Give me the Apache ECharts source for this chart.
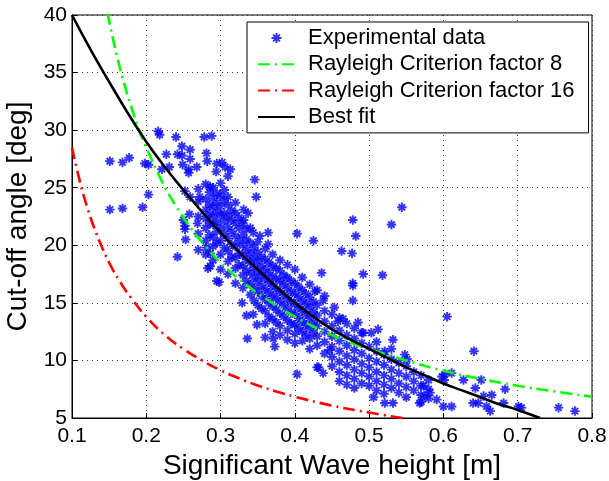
<!DOCTYPE html>
<html>
<head>
<meta charset="utf-8">
<script src="https://cdn.jsdelivr.net/npm/echarts@6/dist/echarts.min.js"></script>
<style>html,body{margin:0;padding:0;background:#fff;}#c{width:609px;height:481px;}</style>
</head>
<body>
<div id="c"></div>
<script>
// ---- data ----
const xTicks = [0.1, 0.2, 0.3, 0.4, 0.5, 0.6, 0.7, 0.8];
const yTicks = [5, 10, 15, 20, 25, 30, 35, 40];

// sparse / outlying measurements [Hs (m), cut-off angle (deg)]
const sparsePoints = [
 [0.151,27.3],[0.168,27.2],[0.177,27.6],[0.198,27.1],[0.203,27.0],[0.151,23.1],[0.168,23.2],[0.195,23.3],[0.203,24.4],
 [0.216,29.9],[0.218,29.6],[0.240,29.4],[0.278,29.4],[0.288,29.5],[0.248,28.6],[0.259,28.3],[0.227,27.9],[0.242,27.9],
 [0.248,27.8],[0.259,27.5],[0.281,28.0],[0.282,27.3],[0.221,26.6],[0.231,26.8],[0.249,27.0],[0.257,26.6],[0.257,26.3],
 [0.268,26.8],[0.294,26.4],[0.286,25.1],[0.252,24.7],[0.259,24.2],[0.272,24.2],[0.258,22.7],[0.250,22.2],[0.252,21.7],
 [0.252,21.4],[0.269,21.9],[0.253,20.5],[0.281,19.8],[0.286,19.3],[0.242,19.0],[0.286,18.2],[0.283,18.0],[0.295,16.9],
 [0.298,16.8],[0.295,27.1],[0.302,27.2],[0.306,26.8],[0.313,26.6],[0.310,26.0],[0.346,25.7],[0.348,24.2],[0.331,23.1],
 [0.337,22.8],[0.331,22.2],[0.335,21.4],[0.344,21.1],[0.353,20.8],[0.364,21.1],[0.403,21.0],[0.425,20.4],[0.364,20.1],
 [0.478,22.2],[0.482,20.8],[0.463,19.5],[0.477,19.3],[0.530,21.8],[0.544,23.3],
 [0.436,17.6],[0.492,17.5],[0.518,17.4],[0.478,16.7],[0.478,16.5],[0.427,16.0],[0.438,15.2],[0.478,15.2],[0.453,14.6],
 [0.458,13.4],[0.465,13.6],[0.485,13.3],[0.512,12.7],[0.503,12.4],[0.492,12.4],[0.532,11.8],[0.521,10.8],[0.548,10.5],
 [0.551,10.1],[0.432,9.4],[0.438,8.9],[0.447,10.9],[0.403,8.8],[0.430,9.4],
 [0.506,6.8],[0.521,6.3],[0.532,6.3],[0.568,6.3],[0.575,6.9],
 [0.605,13.8],[0.641,10.8],[0.598,8.6],[0.602,8.8],[0.611,8.9],[0.601,8.3],[0.627,8.3],[0.651,8.3],[0.643,7.6],
 [0.683,7.5],[0.665,7.0],[0.654,6.9],[0.681,6.3],[0.573,7.8],[0.582,7.2],[0.591,6.6],[0.600,6.0],[0.611,6.0],
 [0.640,6.3],[0.647,6.3],[0.658,6.0],[0.663,5.6],[0.701,6.0],[0.705,5.9],[0.755,5.9],[0.777,5.6],
 [0.329,15.0],[0.335,13.9],[0.344,14.0],[0.349,13.1],[0.336,11.9],[0.360,12.0],[0.371,11.9],[0.373,11.2]
];

// dense main cloud, grouped by Hs column: [Hs, [angles...]]
const denseColumns = [
 [0.270,[22.5,23.8,24.9,21.0,19.6]],
 [0.280,[25.3,24.0,23.1,22.3,21.5,20.4,19.2]],
 [0.285,[24.6,23.5,22.7,21.9,20.9]],
 [0.290,[25.0,24.1,23.3,22.5,21.8,20.7,19.9,18.7]],
 [0.295,[24.5,23.7,22.9,22.0,21.2,20.2]],
 [0.300,[25.4,24.3,23.4,22.6,21.5,20.4,19.2,17.9]],
 [0.305,[24.8,23.9,22.8,22.1,21.0,19.8]],
 [0.310,[24.2,23.5,22.5,21.6,20.6,19.5,18.6,17.5]],
 [0.315,[23.0,22.2,21.2,20.1,19.0]],
 [0.320,[23.7,22.8,21.9,20.8,19.9,18.9,18.0,16.7]],
 [0.325,[22.4,21.5,20.4,19.3,18.3]],
 [0.330,[21.9,20.9,20.0,19.1,18.2,17.4,16.3]],
 [0.335,[20.5,19.6,18.8,17.8,16.9]],
 [0.340,[21.5,20.2,19.3,18.5,17.6,16.6,15.7]],
 [0.345,[19.8,18.9,18.1,17.2,16.3,15.2]],
 [0.350,[20.3,19.4,18.6,17.7,16.9,16.0,14.8]],
 [0.355,[19.0,18.2,17.4,16.5,15.6,14.5]],
 [0.360,[19.7,18.8,17.9,17.1,16.2,15.3,14.3,13.2]],
 [0.365,[18.5,17.6,16.8,15.9,15.0,13.8]],
 [0.370,[19.2,18.2,17.3,16.5,15.6,14.7,13.6,12.5]],
 [0.375,[18.0,17.1,16.2,15.4,14.4,13.3]],
 [0.380,[18.7,17.8,16.9,16.0,15.1,14.1,13.0,12.2]],
 [0.385,[17.4,16.6,15.7,14.8,13.8]],
 [0.390,[18.3,17.2,16.3,15.4,14.5,13.5,12.6,11.8]],
 [0.395,[16.9,16.0,15.1,14.2,13.2]],
 [0.400,[17.9,16.7,15.8,14.9,14.0,13.1,12.3,11.5]],
 [0.405,[16.4,15.5,14.6,13.7,12.8]],
 [0.410,[17.2,16.1,15.2,14.3,13.4,12.5,11.7]],
 [0.415,[15.8,14.9,14.0,13.1,12.2]],
 [0.420,[16.6,15.5,14.6,13.7,12.8,11.9,11.0]],
 [0.425,[15.1,14.2,13.3,12.4]],
 [0.430,[16.1,14.8,13.9,13.0,12.1,11.3]],
 [0.440,[15.6,14.3,13.4,12.5,11.6,10.6]],
 [0.450,[14.0,13.0,12.1,11.2,10.3,9.5]],
 [0.460,[13.7,12.6,11.7,10.8,9.9,9.0,8.2]],
 [0.470,[13.2,12.2,11.3,10.4,9.6,8.7,7.9]],
 [0.480,[12.8,11.9,10.9,10.1,9.2,8.4,7.6]],
 [0.490,[12.4,11.5,10.6,9.7,8.9,8.0]],
 [0.500,[11.2,10.2,9.4,8.6,7.8]],
 [0.510,[11.6,10.8,9.9,9.0,8.2,7.4]],
 [0.520,[10.5,9.6,8.7,7.9,7.1]],
 [0.530,[11.0,10.1,9.2,8.4,7.6]],
 [0.540,[9.8,8.9,8.0,7.2]],
 [0.550,[9.5,8.6,7.7,6.8]],
 [0.560,[9.0,8.2,7.4]],
 [0.570,[8.7,7.8,7.0,6.4]],
 [0.580,[8.3,7.5,6.7]]
];

// Rayleigh criterion factor 8 (green)
const rayleigh8 = [
 [0.148,40.2],[0.15,39.5],[0.16,36.6],[0.17,34.1],[0.18,32.0],[0.19,30.1],[0.20,28.5],[0.22,25.7],[0.24,23.4],
 [0.26,21.5],[0.28,19.9],[0.30,18.5],[0.33,16.8],[0.36,15.4],[0.40,13.8],[0.45,12.2],[0.50,11.0],[0.55,10.0],
 [0.60,9.1],[0.65,8.4],[0.70,7.8],[0.75,7.3],[0.80,6.85]
];
// Rayleigh criterion factor 16 (red)
const rayleigh16 = [
 [0.10,28.5],[0.11,25.7],[0.12,23.4],[0.13,21.5],[0.14,19.9],[0.15,18.5],[0.165,16.8],[0.18,15.4],[0.20,13.8],
 [0.225,12.2],[0.25,11.0],[0.275,10.0],[0.30,9.15],[0.325,8.44],[0.35,7.83],[0.375,7.31],[0.40,6.85],[0.45,6.08],
 [0.50,5.47],[0.545,5.0]
];
// Best fit (black)
const bestFit = [
 [0.10,40.0],[0.125,37.0],[0.15,34.2],[0.175,31.5],[0.20,29.0],[0.225,26.8],[0.25,24.8],[0.275,22.9],[0.30,21.1],
 [0.325,19.4],[0.35,17.9],[0.375,16.4],[0.40,15.0],[0.425,13.8],[0.45,12.7],[0.475,11.8],[0.50,11.0],[0.525,10.2],
 [0.55,9.4],[0.575,8.7],[0.60,8.0],[0.625,7.4],[0.65,6.8],[0.675,6.2],[0.70,5.7],[0.73,5.0]
];

const seriesNames = ['Experimental data','Rayleigh Criterion factor 8','Rayleigh Criterion factor 16','Best fit'];

// ---- build chart ----
const experimental = sparsePoints.slice();
denseColumns.forEach(function (col) { col[1].forEach(function (v) { experimental.push([col[0], v]); }); });

const FONT = 'Liberation Sans, Arial, Helvetica, sans-serif';
const asterisk = 'path://M0,5L10,5M5,0L5,10M1.6,1.6L8.4,8.4M8.4,1.6L1.6,8.4';
const chart = echarts.init(document.getElementById('c'), null, {renderer: 'canvas'});
const axisCommon = {
  axisLine: {show: true, onZero: false, lineStyle: {color: '#000', width: 1}},
  axisTick: {show: true, inside: true, length: 5, lineStyle: {color: '#000'}},
  splitLine: {show: true, lineStyle: {color: '#333', type: [1, 4], width: 1}},
  axisLabel: {color: '#000', fontSize: 21, fontFamily: FONT},
  nameLocation: 'middle',
  nameTextStyle: {color: '#000', fontSize: 28, fontFamily: FONT}
};
chart.setOption({
  animation: false,
  backgroundColor: '#fff',
  textStyle: {fontFamily: FONT},
  grid: {left: 72, right: 17, top: 15, bottom: 63, containLabel: false, outerBoundsMode: 'none',
         show: true, borderColor: '#000', borderWidth: 1, backgroundColor: '#fff'},
  xAxis: Object.assign({}, axisCommon, {
    type: 'value', min: xTicks[0], max: xTicks[xTicks.length - 1], interval: 0.1,
    name: 'Significant Wave height [m]', nameGap: 33,
    axisLabel: Object.assign({}, axisCommon.axisLabel, {margin: 8, formatter: function (v) { return (Math.round(v * 10) / 10).toString(); }})
  }),
  yAxis: Object.assign({}, axisCommon, {
    type: 'value', min: yTicks[0], max: yTicks[yTicks.length - 1], interval: 5,
    name: 'Cut-off angle [deg]', nameGap: 37,
    axisLabel: Object.assign({}, axisCommon.axisLabel, {margin: 5})
  }),
  legend: {
    orient: 'vertical', left: 247, top: 22,
    padding: [5, 14, 5, 10], itemGap: 4.3, itemWidth: 37, itemHeight: 10,
    borderColor: '#000', borderWidth: 1, backgroundColor: '#fff',
    textStyle: {color: '#000', fontSize: 22, lineHeight: 22, fontFamily: FONT, padding: [0, 0, 0, 8]},
    data: [
      {name: seriesNames[0]},
      {name: seriesNames[1], itemStyle: {opacity: 0}},
      {name: seriesNames[2], itemStyle: {opacity: 0}},
      {name: seriesNames[3], itemStyle: {opacity: 0}}
    ]
  },
  series: [
    {name: seriesNames[0], type: 'scatter', data: experimental, symbol: asterisk, symbolSize: 9.5,
     itemStyle: {color: 'rgba(0,0,255,0)', borderColor: '#0000ff', borderWidth: 1.9}, z: 2},
    {name: seriesNames[1], type: 'line', data: rayleigh8, smooth: true, symbol: 'none', clip: true,
     lineStyle: {color: '#00ff00', width: 2.6, type: [12, 5, 2, 5]}, itemStyle: {color: '#00ff00'}, z: 3},
    {name: seriesNames[2], type: 'line', data: rayleigh16, smooth: true, symbol: 'none', clip: true,
     lineStyle: {color: '#ff0000', width: 2.6, type: [12, 5, 2, 5]}, itemStyle: {color: '#ff0000'}, z: 3},
    {name: seriesNames[3], type: 'line', data: bestFit, smooth: true, symbol: 'none', clip: true,
     lineStyle: {color: '#000', width: 2.6}, itemStyle: {color: '#000'}, z: 4}
  ]
});
</script>
</body>
</html>
